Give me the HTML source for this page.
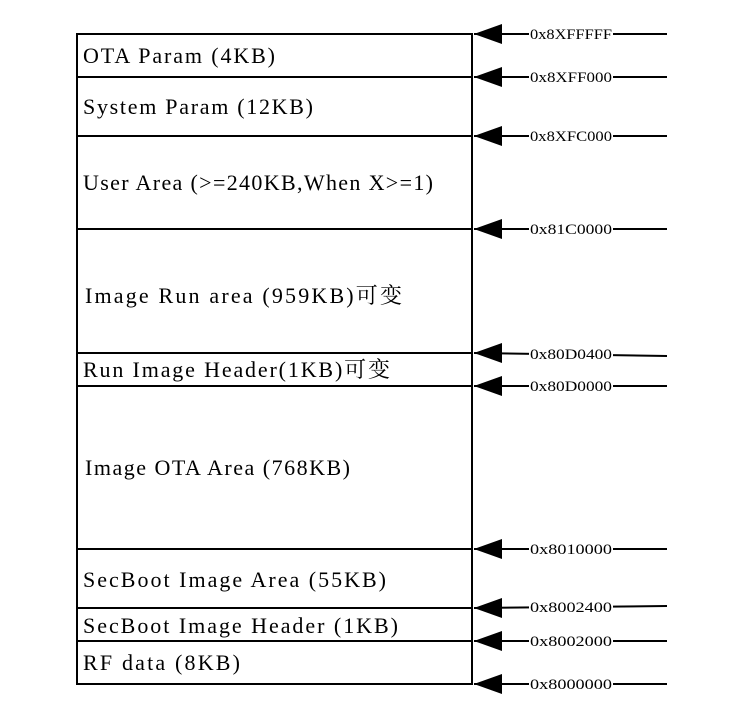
<!DOCTYPE html>
<html><head><meta charset="utf-8"><style>
html,body{margin:0;padding:0;background:#fff;width:738px;height:725px;overflow:hidden}
svg{display:block}
.t{font-family:"Liberation Serif","Noto Serif CJK SC",serif;font-size:22px;fill:#000}
.a{font-family:"Liberation Serif",serif;font-size:15px;fill:#000}
</style></head><body>
<svg width="738" height="725" xmlns="http://www.w3.org/2000/svg">
<g stroke="#000" stroke-width="2" fill="none">
<rect x="77" y="34" width="395" height="650"/>
<line x1="77" y1="77" x2="472" y2="77"/>
<line x1="77" y1="136" x2="472" y2="136"/>
<line x1="77" y1="229" x2="472" y2="229"/>
<line x1="77" y1="353" x2="472" y2="353"/>
<line x1="77" y1="386" x2="472" y2="386"/>
<line x1="77" y1="549" x2="472" y2="549"/>
<line x1="77" y1="608" x2="472" y2="608"/>
<line x1="77" y1="641" x2="472" y2="641"/>
</g>
<g stroke="#000" stroke-width="2">
<line x1="474" y1="34" x2="667" y2="34"/>
<line x1="474" y1="77" x2="667" y2="77"/>
<line x1="474" y1="136" x2="667" y2="136"/>
<line x1="474" y1="229" x2="667" y2="229"/>
<line x1="474" y1="353" x2="667" y2="356"/>
<line x1="474" y1="386" x2="667" y2="386"/>
<line x1="474" y1="549" x2="667" y2="549"/>
<line x1="474" y1="608" x2="667" y2="606"/>
<line x1="474" y1="641" x2="667" y2="641"/>
<line x1="474" y1="684" x2="667" y2="684"/>
</g>
<g fill="#000">
<polygon points="474,34 502,24 502,44"/>
<polygon points="474,77 502,67 502,87"/>
<polygon points="474,136 502,126 502,146"/>
<polygon points="474,229 502,219 502,239"/>
<polygon points="474,353 502,343 502,363"/>
<polygon points="474,386 502,376 502,396"/>
<polygon points="474,549 502,539 502,559"/>
<polygon points="474,608 502,598 502,618"/>
<polygon points="474,641 502,631 502,651"/>
<polygon points="474,684 502,674 502,694"/>
</g>
<g fill="#fff">
<rect x="529" y="26" width="84" height="16"/>
<rect x="529" y="69" width="84" height="16"/>
<rect x="529" y="128" width="84" height="16"/>
<rect x="529" y="221" width="84" height="16"/>
<rect x="529" y="346" width="84" height="16"/>
<rect x="529" y="378" width="84" height="16"/>
<rect x="529" y="541" width="84" height="16"/>
<rect x="529" y="599" width="84" height="16"/>
<rect x="529" y="633" width="84" height="16"/>
<rect x="529" y="676" width="84" height="16"/>
</g>
<g class="a">
<text x="530" y="39" textLength="82" lengthAdjust="spacingAndGlyphs">0x8XFFFFF</text>
<text x="530" y="82" textLength="82" lengthAdjust="spacingAndGlyphs">0x8XFF000</text>
<text x="530" y="141" textLength="82" lengthAdjust="spacingAndGlyphs">0x8XFC000</text>
<text x="530" y="234" textLength="82" lengthAdjust="spacingAndGlyphs">0x81C0000</text>
<text x="530" y="359" textLength="82" lengthAdjust="spacingAndGlyphs">0x80D0400</text>
<text x="530" y="391" textLength="82" lengthAdjust="spacingAndGlyphs">0x80D0000</text>
<text x="530" y="554" textLength="82" lengthAdjust="spacingAndGlyphs">0x8010000</text>
<text x="530" y="612" textLength="82" lengthAdjust="spacingAndGlyphs">0x8002400</text>
<text x="530" y="646" textLength="82" lengthAdjust="spacingAndGlyphs">0x8002000</text>
<text x="530" y="689" textLength="82" lengthAdjust="spacingAndGlyphs">0x8000000</text>
</g>
<g class="t">
<text x="83" y="63" textLength="192">OTA Param  (4KB)</text>
<text x="83" y="114" textLength="230">System Param (12KB)</text>
<text x="83" y="190" textLength="350">User Area (&gt;=240KB,When X&gt;=1)</text>
<text x="85" y="303" textLength="317">Image Run area (959KB)可变</text>
<text x="83" y="377" textLength="307">Run Image Header(1KB)可变</text>
<text x="85" y="475" textLength="265">Image OTA Area (768KB)</text>
<text x="83" y="587" textLength="303">SecBoot Image Area (55KB)</text>
<text x="83" y="633" textLength="315">SecBoot Image Header (1KB)</text>
<text x="83" y="670" textLength="157">RF data (8KB)</text>
</g>
</svg>
</body></html>
